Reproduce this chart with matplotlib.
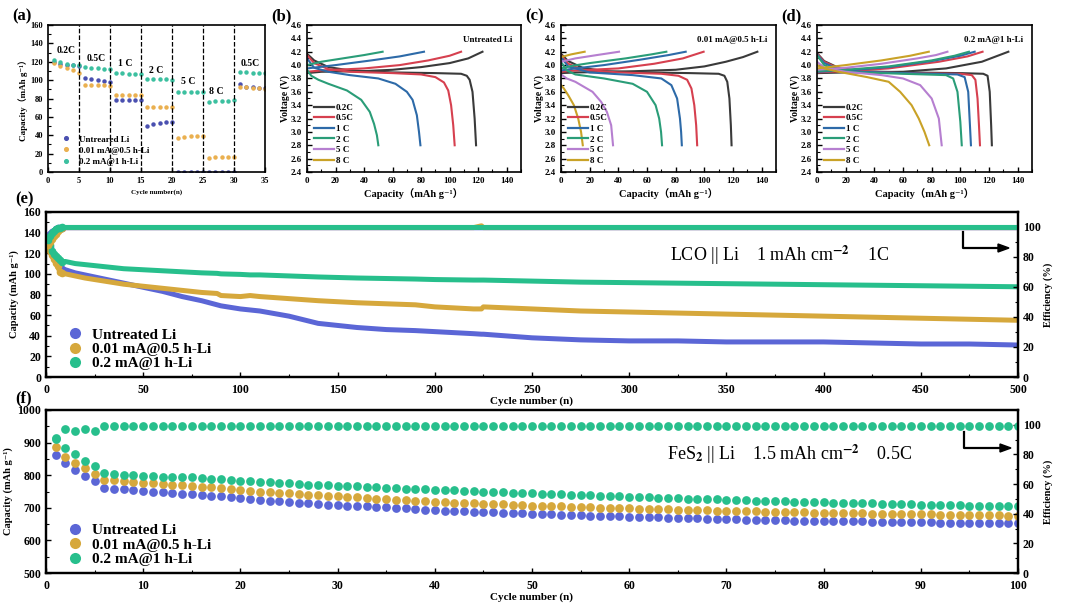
import matplotlib.pyplot as plt
from matplotlib.lines import Line2D
from matplotlib.ticker import MultipleLocator

plt.rcParams['font.family'] = ['Liberation Serif', 'DejaVu Serif', 'Noto Sans CJK SC']
plt.rcParams['font.weight'] = 'bold'
plt.rcParams['axes.labelweight'] = 'bold'
plt.rcParams['mathtext.fontset'] = 'stix'
plt.rcParams['xtick.direction'] = 'in'
plt.rcParams['ytick.direction'] = 'in'

BLUE = '#5b66d6'
GOLD = '#d6a83c'
GREEN = '#27bf8c'
SERIES = ['Untreated Li', '0.01 mA@0.5 h-Li', '0.2 mA@1 h-Li']

# ---- (a) rate performance ----
rate_cycles = list(range(1, 36))
rate_untreated = [120, 118, 117, 116, 115, 102, 101, 100, 99, 98,
                  78, 78, 78, 78, 78, 50, 52, 53, 54, 54,
                  0.5, 0.5, 0.5, 0.5, 0.5, 0.5, 0.5, 0.5, 0.5, 0.5,
                  96, 93, 92, 91, 91]
rate_001 = [119, 115, 113, 111, 108, 95, 95, 95, 95, 94,
            84, 84, 84, 84, 84, 71, 71, 71, 71, 71,
            37, 38, 39, 39, 39, 15, 16, 16, 16, 16,
            93, 92, 91, 91, 90]
rate_02 = [122, 120, 118, 117, 116, 114, 113, 113, 112, 112,
           108, 108, 107, 107, 107, 101, 101, 101, 101, 100,
           87, 87, 87, 87, 87, 76, 77, 77, 77, 78,
           109, 109, 108, 108, 108]
rate_labels = ['0.2C', '0.5C', '1 C', '2 C', '5 C', '8 C', '0.5C']
rate_label_x = [3.0, 7.8, 12.4, 17.5, 22.6, 27.2, 32.6]
rate_label_y = [132, 124, 118, 111, 98, 88, 118]

# ---- (b)-(d) charge / discharge curves: (capacity, voltage) ----
RATES = ['0.2C', '0.5C', '1 C', '2 C', '5 C', '8 C']
RATE_COLORS = ['#3a3a3a', '#d6404f', '#2d6aa8', '#2a9d78', '#b67fd0', '#c9a227']

b_dis = {
    '0.2C': ([0, 5, 15, 30, 60, 90, 108, 112, 114, 116, 117.5, 118.5],
             [4.17, 4.07, 3.97, 3.92, 3.89, 3.88, 3.87, 3.84, 3.78, 3.6, 3.2, 2.8]),
    '0.5C': ([0, 5, 15, 30, 60, 80, 90, 96, 99, 101, 102.5, 103.5],
             [4.15, 4.03, 3.94, 3.9, 3.88, 3.86, 3.82, 3.74, 3.62, 3.4, 3.1, 2.8]),
    '1 C': ([0, 5, 15, 30, 50, 62, 70, 74, 77, 78.5, 79.5],
            [4.1, 3.96, 3.9, 3.85, 3.8, 3.72, 3.6, 3.48, 3.25, 3.0, 2.8]),
    '2 C': ([0, 3, 8, 15, 28, 38, 44, 47, 49, 50],
            [3.93, 3.84, 3.78, 3.72, 3.62, 3.48, 3.3, 3.12, 2.95, 2.8]),
}
b_chg = {
    '0.2C': ([0, 10, 40, 60, 80, 100, 113, 123],
             [3.88, 3.9, 3.91, 3.93, 3.97, 4.03, 4.1, 4.2]),
    '0.5C': ([0, 10, 40, 65, 85, 100, 108],
             [3.9, 3.92, 3.95, 4.0, 4.07, 4.14, 4.2]),
    '1 C': ([0, 20, 45, 65, 82],
            [3.95, 4.0, 4.07, 4.13, 4.2]),
    '2 C': ([0, 10, 25, 40, 53],
            [4.0, 4.05, 4.1, 4.15, 4.2]),
}

c_dis = {
    '0.2C': ([0, 5, 15, 30, 60, 90, 110, 114, 116, 117.5, 118.5, 119],
             [4.17, 4.06, 3.96, 3.91, 3.89, 3.88, 3.87, 3.84, 3.75, 3.5, 3.1, 2.8]),
    '0.5C': ([0, 5, 15, 40, 70, 82, 88, 91, 93, 94.3, 95],
             [4.15, 4.02, 3.93, 3.89, 3.87, 3.84, 3.78, 3.65, 3.4, 3.1, 2.8]),
    '1 C': ([0, 5, 20, 50, 70, 77, 81, 83, 83.8, 84.3],
            [4.12, 3.98, 3.89, 3.85, 3.8, 3.7, 3.5, 3.2, 3.0, 2.8]),
    '2 C': ([0, 4, 10, 30, 50, 60, 66, 68.5, 69.8, 70.5],
            [4.05, 3.92, 3.86, 3.8, 3.72, 3.6, 3.4, 3.2, 3.0, 2.8]),
    '5 C': ([0, 4, 10, 22, 28, 32, 35, 36.3],
            [3.86, 3.8, 3.75, 3.6, 3.45, 3.3, 3.1, 2.8]),
    '8 C': ([0, 2, 5, 9, 12, 14, 15.2],
            [3.7, 3.65, 3.55, 3.4, 3.2, 3.0, 2.8]),
}
c_chg = {
    '0.2C': ([0, 10, 40, 80, 100, 115, 127, 137],
             [3.88, 3.89, 3.9, 3.93, 3.98, 4.05, 4.12, 4.2]),
    '0.5C': ([0, 10, 40, 65, 85, 99.5],
             [3.9, 3.92, 3.95, 4.02, 4.1, 4.2]),
    '1 C': ([0, 10, 30, 55, 75, 87],
            [3.92, 3.95, 4.0, 4.08, 4.15, 4.2]),
    '2 C': ([0, 8, 20, 45, 63, 73.5],
            [3.95, 3.99, 4.03, 4.1, 4.16, 4.2]),
    '5 C': ([0, 10, 25, 40.5],
            [4.05, 4.1, 4.15, 4.2]),
    '8 C': ([0, 7, 16.5],
            [4.12, 4.16, 4.2]),
}

d_dis = {
    '0.2C': ([0, 5, 15, 30, 60, 100, 116, 119, 120.5, 121.5, 122],
             [4.18, 4.06, 3.96, 3.91, 3.89, 3.88, 3.87, 3.84, 3.6, 3.1, 2.8]),
    '0.5C': ([0, 5, 15, 30, 60, 100, 108, 110.5, 112, 113, 113.7],
             [4.17, 4.05, 3.95, 3.9, 3.88, 3.87, 3.85, 3.78, 3.5, 3.1, 2.8]),
    '1 C': ([0, 5, 15, 30, 60, 98, 103, 105.5, 106.7, 107.4],
            [4.16, 4.03, 3.94, 3.9, 3.88, 3.86, 3.82, 3.6, 3.1, 2.8]),
    '2 C': ([0, 5, 15, 30, 60, 90, 95, 98, 100, 101],
            [4.15, 4.0, 3.92, 3.89, 3.87, 3.85, 3.8, 3.6, 3.15, 2.8]),
    '5 C': ([0, 5, 20, 45, 60, 72, 80, 85, 87],
            [4.05, 3.96, 3.9, 3.85, 3.8, 3.7, 3.5, 3.2, 2.8]),
    '8 C': ([0, 5, 15, 35, 50, 58, 66, 71, 75, 78.3],
            [4.0, 3.95, 3.9, 3.82, 3.75, 3.6, 3.4, 3.2, 3.0, 2.8]),
}
d_chg = {
    '0.2C': ([0, 20, 60, 90, 115, 133.5],
             [3.88, 3.89, 3.9, 3.95, 4.05, 4.2]),
    '0.5C': ([0, 20, 50, 85, 105, 115.5],
             [3.89, 3.91, 3.95, 4.05, 4.13, 4.2]),
    '1 C': ([0, 20, 50, 80, 100, 110],
            [3.9, 3.92, 3.97, 4.06, 4.14, 4.2]),
    '2 C': ([0, 20, 50, 80, 96, 106],
            [3.91, 3.93, 3.98, 4.07, 4.14, 4.2]),
    '5 C': ([0, 20, 45, 70, 83, 91],
            [3.93, 3.96, 4.02, 4.1, 4.15, 4.2]),
    '8 C': ([0, 20, 45, 65, 78],
            [3.95, 4.0, 4.07, 4.14, 4.2]),
}

# ---- (e) LCO || Li long cycling ----
e_cycles = [1, 2, 3, 4, 5, 6, 7, 8, 10, 15, 20, 30, 40, 50, 60, 70, 80, 88, 90, 100,
            105, 110, 125, 140, 150, 160, 175, 190, 200, 220, 224, 225, 250, 275,
            300, 325, 350, 375, 400, 425, 450, 475, 500]
e_cap_untreated = [135, 126, 121, 118, 116, 110, 106, 105, 104, 101, 99, 95, 91, 87, 83, 78,
                   74, 70, 69, 66, 65, 64, 59, 52, 50, 48, 46, 45, 44, 42, 41.5, 41.5,
                   38, 36, 35, 35, 34, 34, 34, 33, 32, 32, 31]
e_cap_001 = [125, 122, 118, 114, 111, 108, 102, 101, 100, 98, 96, 93, 90, 88, 86, 84,
             82, 81, 79, 78, 79, 78, 76, 74, 73, 72, 71, 70, 68, 66, 66, 68,
             66, 64, 63, 62, 61, 60, 59, 58, 57, 56, 55]
e_cap_02 = [135, 128, 122, 119, 117, 115, 113, 112, 112, 110, 109, 107, 105, 104, 103, 102,
            101, 100.5, 100, 99.5, 99, 99, 98, 97, 96.5, 96, 95.5, 95, 94.5, 94, 94, 94,
            93, 92, 91.5, 91, 90.5, 90, 89.5, 89, 88.5, 88, 87.5]
e_eff_untreated = [93, 95, 96.5, 97.5, 98.5, 99, 99.3] + [99.5] * 36
e_eff_001 = [88, 90, 92, 94, 95.5, 97, 98.5, 99.3] + [99.6] * 22 + [100.8] + [99.6] * 12
e_eff_02 = [91, 94, 96, 97.5, 98.5, 99.3, 99.5] + [99.7] * 36

# ---- (f) FeS2 || Li ----
f_cycles = list(range(1, 101))
f_cap_untreated = [862, 838, 816, 799, 781, 761, 759, 757, 755, 752,
                   750, 748, 746, 743, 741, 739, 737, 735, 732, 729,
                   726, 724, 722, 720, 718, 716, 714, 712, 710, 708,
                   707, 705, 704, 702, 701, 699, 698, 696, 694, 692,
                   691, 690, 689, 688, 687, 686, 685, 684, 683, 682,
                   681, 680, 679, 678, 677, 676, 675, 674, 674, 673,
                   672, 671, 671, 670, 669, 668, 668, 667, 666, 666,
                   665, 664, 664, 663, 663, 662, 661, 661, 660, 660,
                   659, 659, 658, 658, 657, 657, 656, 656, 655, 655,
                   655, 654, 654, 654, 653, 653, 653, 653, 653, 652]
f_cap_001 = [888, 857, 838, 822, 805, 786, 784, 781, 779, 777,
             775, 773, 771, 769, 767, 765, 763, 761, 758, 755,
             752, 750, 748, 746, 744, 742, 740, 739, 737, 736,
             734, 732, 730, 728, 726, 725, 723, 721, 720, 718,
             717, 716, 715, 714, 713, 712, 711, 710, 708, 707,
             706, 705, 704, 703, 702, 701, 700, 700, 699, 698,
             697, 696, 696, 695, 694, 693, 693, 692, 691, 691,
             690, 689, 689, 688, 688, 687, 686, 686, 685, 685,
             684, 684, 683, 683, 682, 682, 681, 681, 680, 680,
             680, 679, 679, 678, 678, 678, 677, 677, 676, 676]
f_cap_02 = [910, 883, 865, 845, 828, 807, 805, 802, 800, 799,
            797, 796, 795, 795, 793, 791, 789, 788, 785, 782,
            781, 780, 778, 777, 775, 773, 771, 770, 769, 768,
            767, 766, 764, 763, 762, 760, 759, 758, 757, 756,
            755, 754, 752, 751, 750, 749, 748, 746, 745, 744,
            743, 742, 741, 740, 739, 738, 737, 736, 735, 734,
            733, 732, 731, 730, 729, 728, 727, 727, 726, 725,
            724, 723, 722, 722, 721, 720, 719, 719, 718, 717,
            716, 716, 715, 714, 714, 713, 712, 712, 711, 710,
            710, 709, 708, 708, 707, 706, 706, 705, 705, 704]
f_eff_02 = [91, 97.2, 95.9, 97.4, 96.0] + [99.2] * 95

W, H = 1080, 608
fig = plt.figure(figsize=(W / 100, H / 100), dpi=100)


def px_axes(l, t, r, b):
    return fig.add_axes([l / W, 1 - b / H, (r - l) / W, (b - t) / H])


def style(ax, size, lw=1.2):
    for s in ax.spines.values():
        s.set_linewidth(lw)
    ax.tick_params(which='both', labelsize=size, top=False, right=False)
    ax.tick_params(which='major', length=3.5, width=1)
    ax.tick_params(which='minor', length=2, width=0.8)


# (a)
ax = px_axes(48, 25, 265, 172)
for ys, c, lab in zip([rate_untreated, rate_001, rate_02], ['#4a50b0', '#eab050', '#3cc0a0'],
                      ['Untreared Li', SERIES[1], SERIES[2]]):
    ax.plot(rate_cycles, ys, 'o', ms=2.2, color=c, label=lab)
for xv in [5, 10, 15, 20, 25, 30]:
    ax.axvline(xv, color='black', ls='--', lw=0.9)
for t, x, y in zip(rate_labels, rate_label_x, rate_label_y):
    ax.text(x, y, t, ha='center', va='center', fontsize=7)
ax.set_xlim(0, 35)
ax.set_ylim(0, 160)
ax.xaxis.set_major_locator(MultipleLocator(5))
ax.yaxis.set_major_locator(MultipleLocator(20))
ax.yaxis.set_minor_locator(MultipleLocator(10))
style(ax, 6)
ax.set_xlabel('Cycle number(n)', fontsize=5, labelpad=3)
ax.set_ylabel('Capacity（mAh g⁻¹）', fontsize=6.5, labelpad=2)
ax.legend(loc='lower left', fontsize=6.5, frameon=False, handletextpad=0.8,
          labelspacing=0.3, borderaxespad=0.3, markerscale=1.2, handlelength=1.2,
          bbox_to_anchor=(0.03, 0.0))
fig.text(12 / W, 1 - 16 / H, '(a)', fontsize=12, va='center')

# (b)-(d)
for (l, r), dis, chg, title, lab in zip([(307, 521), (561, 776), (817, 1032)],
                                        [b_dis, c_dis, d_dis], [b_chg, c_chg, d_chg],
                                        ['Untreated Li', '0.01 mA@0.5 h-Li', '0.2 mA@1 h-Li'],
                                        ['(b)', '(c)', '(d)']):
    ax = px_axes(l, 25, r, 172)
    for rate, col in zip(RATES, RATE_COLORS):
        if rate in dis:
            ax.plot(*dis[rate], color=col, lw=1.5)
            ax.plot(*chg[rate], color=col, lw=1.5)
    ax.set_xlim(0, 150)
    ax.set_ylim(2.4, 4.6)
    ax.xaxis.set_major_locator(MultipleLocator(20))
    ax.xaxis.set_minor_locator(MultipleLocator(10))
    ax.yaxis.set_major_locator(MultipleLocator(0.2))
    ax.yaxis.set_minor_locator(MultipleLocator(0.1))
    style(ax, 6.5)
    ax.set_xlabel('Capacity（mAh g⁻¹）', fontsize=7.5, labelpad=2)
    ax.set_ylabel('Voltage (V)', fontsize=7, labelpad=1)
    ax.text(0.96, 0.9, title, transform=ax.transAxes, ha='right', va='center', fontsize=6.5)
    handles = [Line2D([], [], color=c, lw=1.6) for c in RATE_COLORS]
    ax.legend(handles, RATES, loc='lower left', fontsize=6.5, frameon=False,
              labelspacing=0.25, handlelength=2.2, handletextpad=0.2, borderaxespad=0.4)
    fig.text((l - 36) / W, 1 - 16 / H, lab, fontsize=12, va='center')


def long_panel(top, bottom, xs, caps, effs, ylim, ymaj, ymin, xlim, xmaj, xmin, lw, ms, marker_every):
    ax = px_axes(46, top, 1018, bottom)
    for ys, c in zip(caps, [BLUE, GOLD, GREEN]):
        if lw:
            ax.plot(xs, ys, '-', color=c, lw=lw, solid_capstyle='round')
        ax.plot(xs[:marker_every], ys[:marker_every], 'o', color=c, ms=ms, mec='none')
    ax.set_xlim(*xlim)
    ax.set_ylim(*ylim)
    ax.xaxis.set_major_locator(MultipleLocator(xmaj))
    ax.xaxis.set_minor_locator(MultipleLocator(xmin))
    ax.yaxis.set_major_locator(MultipleLocator(ymaj))
    ax.yaxis.set_minor_locator(MultipleLocator(ymin))
    style(ax, 8.5, lw=1.6)
    ax.tick_params(axis='x', pad=5)
    ax.set_xlabel('Cycle number (n)', fontsize=8, labelpad=0)
    ax.set_ylabel('Capacity (mAh g⁻¹)', fontsize=7.5, labelpad=3)
    ax2 = ax.twinx()
    for ys, c in effs:
        if lw:
            ax2.plot(xs, ys, '-', color=c, lw=lw, solid_capstyle='round')
        ax2.plot(xs[:marker_every], ys[:marker_every], 'o', color=c, ms=ms, mec='none')
    ax2.set_ylim(0, 110)
    ax2.yaxis.set_major_locator(MultipleLocator(20))
    ax2.yaxis.set_minor_locator(MultipleLocator(10))
    ax2.tick_params(which='both', labelsize=8.5, direction='in')
    ax2.tick_params(which='major', length=3.5, width=1)
    ax2.tick_params(which='minor', length=2, width=0.8)
    for s in ax2.spines.values():
        s.set_linewidth(1.6)
    ax2.set_ylabel('Efficiency (%)', fontsize=7.5, labelpad=2)
    handles = [Line2D([], [], ls='none', marker='o', ms=8, color=c, mec='none') for c in [BLUE, GOLD, GREEN]]
    ax.legend(handles, SERIES, loc='lower left', fontsize=11, frameon=False,
              labelspacing=0.05, handlelength=1.0, handletextpad=0.6, borderaxespad=1.0,
              bbox_to_anchor=(0.0, -0.09))
    return ax, ax2


def corner_arrow(x0, y0, y1, x1):
    fig.lines.append(Line2D([x0 / W, x0 / W, (x1 - 4) / W], [1 - y0 / H, 1 - y1 / H, 1 - y1 / H],
                            color='black', lw=1.6, transform=fig.transFigure))
    fig.patches.append(plt.Polygon([[(x1 + 4) / W, 1 - y1 / H], [(x1 - 7) / W, 1 - (y1 - 4) / H],
                                    [(x1 - 7) / W, 1 - (y1 + 4) / H]],
                                   closed=True, color='black', transform=fig.transFigure))


ax, ax2 = long_panel(212, 377, e_cycles, [e_cap_untreated, e_cap_001, e_cap_02],
                     [(e_eff_untreated, BLUE), (e_eff_001, GOLD), (e_eff_02, GREEN)],
                     (0, 160), 20, 10, (0, 500), 50, 25, 3.6, 5.5, 8)
ax.text(0.755, 0.735, 'LCO || Li    1 mAh cm$^{-2}$    1C', transform=ax.transAxes,
        ha='center', va='center', fontsize=13, fontweight='normal')
corner_arrow(963, 232, 248, 1005)
fig.text(15 / W, 1 - 199 / H, '(e)', fontsize=12, va='center')

ax, ax2 = long_panel(410, 573, f_cycles, [f_cap_untreated, f_cap_001, f_cap_02],
                     [(f_eff_02, GREEN)], (500, 1000), 100, 50, (0, 100), 10, 5, 0, 6.3, 100)
ax.text(0.765, 0.73, 'FeS$_2$ || Li    1.5 mAh cm$^{-2}$    0.5C', transform=ax.transAxes,
        ha='center', va='center', fontsize=13, fontweight='normal')
corner_arrow(964, 432, 448, 1007)
fig.text(15 / W, 1 - 398 / H, '(f)', fontsize=12, va='center')

fig.savefig('out.png', dpi=100, facecolor='white')
